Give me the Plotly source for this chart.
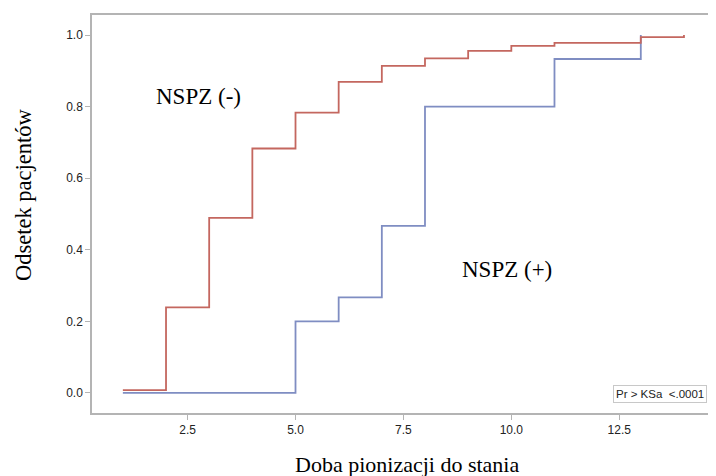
import plotly.graph_objects as go

# Data: days of verticalization (x) and cumulative fraction of patients (y)
neg_days = [1, 2, 3, 4, 5, 6, 7, 8, 9, 10, 11, 13, 14]
neg_frac = [0.008, 0.239, 0.489, 0.683, 0.783, 0.869, 0.914, 0.935, 0.956, 0.970, 0.978, 0.994, 1.0]

pos_days = [1, 5, 6, 7, 8, 11, 13]
pos_frac = [0.0, 0.2, 0.267, 0.467, 0.8, 0.933, 1.0]

x_ticks = [2.5, 5.0, 7.5, 10.0, 12.5]
y_ticks = [0.0, 0.2, 0.4, 0.6, 0.8, 1.0]

fig = go.Figure()
fig.add_trace(go.Scatter(x=pos_days, y=pos_frac, mode="lines", line_shape="hv",
                         line=dict(color="#7f8dc2", width=1.8), showlegend=False))
fig.add_trace(go.Scatter(x=neg_days, y=neg_frac, mode="lines", line_shape="hv",
                         line=dict(color="#c4675f", width=1.8), showlegend=False))

axis_common = dict(showline=True, linecolor="#b4b4b4", linewidth=1.5, mirror=True,
                   ticks="outside", ticklen=5, tickcolor="#b4b4b4", tickwidth=1,
                   showgrid=False, zeroline=False,
                   tickfont=dict(family="Liberation Sans, Arial", size=12, color="#222222"))

fig.update_xaxes(range=[0.285, 14.58], tickvals=x_ticks, tickformat=".1f", **axis_common)
fig.update_yaxes(range=[-0.056, 1.056], tickvals=y_ticks, tickformat=".1f", **axis_common)

serif = dict(family="Liberation Serif, Times New Roman", size=23, color="#000000")

fig.add_annotation(text="NSPZ (-)", x=2.76, y=0.827, xref="x", yref="y",
                   showarrow=False, font=serif)
fig.add_annotation(text="NSPZ (+)", x=9.91, y=0.346, xref="x", yref="y",
                   showarrow=False, font=serif)

# axis titles
fig.add_annotation(text="Doba pionizacji do stania", x=0.51, y=-0.13, xref="paper", yref="paper",
                   xanchor="center", yanchor="middle", showarrow=False,
                   font=dict(family="Liberation Serif, Times New Roman", size=22, color="#000000"))
fig.add_annotation(text="Odsetek pacjentów", x=-0.112, y=0.55, xref="paper", yref="paper",
                   xanchor="center", yanchor="middle", textangle=-90, showarrow=False,
                   font=dict(family="Liberation Serif, Times New Roman", size=22.5, color="#000000"))

# statistic box
fig.add_annotation(text="Pr > KSa&nbsp;&nbsp;&lt;.0001", x=1, y=0, xref="paper", yref="paper",
                   xanchor="right", yanchor="bottom", xshift=-2, yshift=10, showarrow=False,
                   bordercolor="#c8c8c8", borderwidth=1, borderpad=2, bgcolor="white",
                   font=dict(family="Liberation Sans, Arial", size=11.5, color="#222222"))

# page body adds an 8px offset, so the figure is made 8px smaller on each axis
fig.update_layout(width=708, height=468, margin=dict(l=84, r=6, t=5, b=63),
                  plot_bgcolor="white", paper_bgcolor="white")

fig.write_html("out.html")
